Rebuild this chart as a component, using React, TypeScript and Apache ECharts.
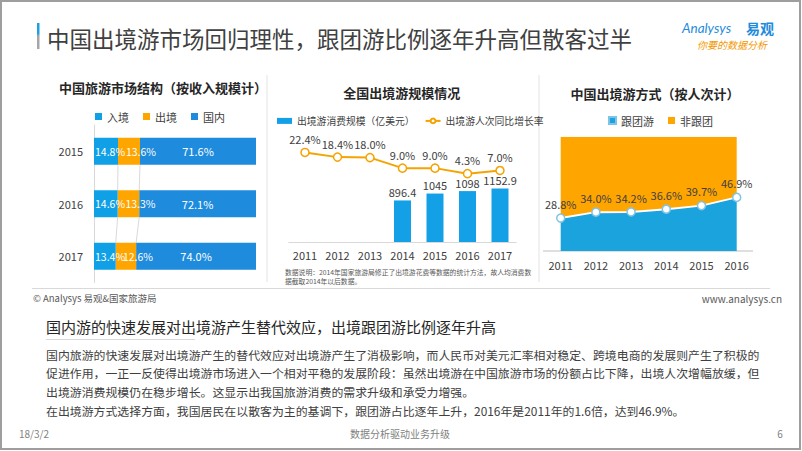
import React, { useEffect, useRef } from "react";
import * as echarts from "echarts";

const FONT = '"Noto Sans CJK SC", "Noto Sans", sans-serif';

// Chart 1: 中国旅游市场结构（按收入规模计）
const years1 = ["2015", "2016", "2017"];
const inbound = [14.8, 14.6, 13.4];
const outbound = [13.6, 13.3, 12.6];
const domestic = [71.6, 72.1, 74.0];

// Chart 2: 全国出境游规模情况
const years2 = ["2011", "2012", "2013", "2014", "2015", "2016", "2017"];
const spending = [null, null, null, 896.4, 1045, 1098, 1152.9];
const growth = [22.4, 18.4, 18.0, 9.0, 9.0, 4.3, 7.0];

// Chart 3: 中国出境游方式（按人次计）
const years3 = ["2011", "2012", "2013", "2014", "2015", "2016"];
const groupTour = [28.8, 34.0, 34.2, 36.6, 39.7, 46.9];
const independent = [71.2, 66.0, 65.8, 63.4, 60.3, 53.1];

const paragraph = [
  "国内旅游的快速发展对出境游产生的替代效应对出境游产生了消极影响，而人民币对美元汇率相对稳定、跨境电商的发展则产生了积极的",
  "促进作用，一正一反使得出境游市场进入一个相对平稳的发展阶段：虽然出境游在中国旅游市场的份额占比下降，出境人次增幅放缓，但",
  "出境游消费规模仍在稳步增长。这显示出我国旅游消费的需求升级和承受力增强。",
  "在出境游方式选择方面，我国居民在以散客为主的基调下，跟团游占比逐年上升，2016年是2011年的1.6倍，达到46.9%。",
];

const pct = (p: any) => (p.value == null ? "" : Number(p.value).toFixed(1) + "%");
const BAR1 = 27;

export default function App() {
  const ref = useRef<HTMLDivElement>(null);
  useEffect(() => {
    document.body.style.margin = "0";
    if (!ref.current) return;
    const chart = echarts.init(ref.current, null, { renderer: "svg" });
    const txt = (text: string, x: number, y: number, size: number, color: string, extra: any = {}) => ({
      type: "text",
      x,
      y,
      style: {
        text,
        fontSize: size,
        fill: color,
        fontFamily: FONT,
        textVerticalAlign: "middle",
        ...extra,
      },
    });
    const line = (x1: number, y1: number, x2: number, y2: number, color: string, w = 1) => ({
      type: "line",
      shape: { x1, y1, x2, y2 },
      style: { stroke: color, lineWidth: w },
    });
    // series lines connecting segment boundaries between consecutive bars
    const seriesLines = (params: any, api: any) => {
      const i = api.value(1);
      const bounds = [inbound[i], inbound[i] + outbound[i]];
      const nextBounds = [inbound[i + 1], inbound[i + 1] + outbound[i + 1]];
      const children = bounds.map((b, k) => {
        const a = api.coord([b, i]);
        const c = api.coord([nextBounds[k], i + 1]);
        return {
          type: "line",
          shape: { x1: a[0], y1: a[1] + BAR1 / 2, x2: c[0], y2: c[1] - BAR1 / 2 },
          style: { stroke: "#CFCFCF", lineWidth: 0.8 },
        };
      });
      return { type: "group", children };
    };
    const option: any = {
      animation: false,
      backgroundColor: "#ffffff",
      textStyle: { fontFamily: FONT },
      legend: [
        {
          data: ["入境", "出境", "国内"],
          left: 90,
          top: 106,
          icon: "rect",
          itemWidth: 7,
          itemHeight: 7,
          itemGap: 14,
          textStyle: { fontSize: 11, color: "#404040", fontFamily: FONT },
        },
        {
          data: [
            { name: "出境游消费规模（亿美元）", icon: "rect" },
            { name: "出境游人次同比增长率" },
          ],
          left: 272,
          top: 111,
          itemWidth: 15,
          itemHeight: 6,
          itemGap: 10,
          textStyle: { fontSize: 9.8, color: "#404040", fontFamily: FONT },
        },
        {
          data: [
            { name: "跟团游", icon: "rect", itemStyle: { color: "#1AA3DC" } },
            { name: "非跟团", icon: "rect" },
          ],
          left: 603,
          top: 110,
          itemWidth: 7,
          itemHeight: 7,
          itemGap: 14,
          textStyle: { fontSize: 11, color: "#404040", fontFamily: FONT },
        },
      ],
      grid: [
        { left: 94, top: 125, width: 162, height: 157.5 },
        { left: 288.75, top: 140, width: 227.5, height: 102 },
        { left: 560.7, top: 136.7, width: 176, height: 114.3 },
      ],
      xAxis: [
        { type: "value", gridIndex: 0, min: 0, max: 100, show: false },
        {
          type: "category",
          gridIndex: 1,
          data: years2,
          axisLine: { lineStyle: { color: "#D9D9D9" } },
          axisTick: { show: false },
          axisLabel: { color: "#404040", fontSize: 11, margin: 7 },
        },
        {
          type: "category",
          gridIndex: 2,
          data: years3,
          boundaryGap: false,
          axisLine: { show: false },
          axisTick: { show: false },
          axisLabel: { color: "#404040", fontSize: 11, margin: 8 },
        },
      ],
      yAxis: [
        {
          type: "category",
          gridIndex: 0,
          data: years1,
          inverse: true,
          axisLine: { lineStyle: { color: "#D9D9D9" } },
          axisTick: { show: false },
          axisLabel: { color: "#404040", fontSize: 11, margin: 11 },
        },
        { type: "value", gridIndex: 1, min: 0, max: 2200, show: false },
        { type: "value", gridIndex: 1, min: -54, max: 33, show: false },
        { type: "value", gridIndex: 2, min: 0, max: 100, show: false },
      ],
      series: [
        {
          name: "入境",
          type: "bar",
          stack: "mkt",
          xAxisIndex: 0,
          yAxisIndex: 0,
          barWidth: BAR1,
          z: 5,
          data: inbound,
          itemStyle: { color: "#0FA0E6" },
          label: { show: true, position: "insideLeft", distance: 1, color: "#fff", fontSize: 10.5, formatter: pct },
        },
        {
          name: "出境",
          type: "bar",
          stack: "mkt",
          xAxisIndex: 0,
          yAxisIndex: 0,
          barWidth: BAR1,
          z: 4,
          data: outbound,
          itemStyle: { color: "#FFA500" },
          label: { show: true, position: "inside", offset: [12, 0], color: "#fff", fontSize: 10.5, formatter: pct },
        },
        {
          name: "国内",
          type: "bar",
          stack: "mkt",
          xAxisIndex: 0,
          yAxisIndex: 0,
          barWidth: BAR1,
          z: 3,
          data: domestic,
          itemStyle: { color: "#1E8BDC" },
          label: { show: true, position: "inside", color: "#fff", fontSize: 11, formatter: pct },
        },
        {
          name: "seriesLines",
          type: "custom",
          xAxisIndex: 0,
          yAxisIndex: 0,
          renderItem: seriesLines,
          data: [
            [0, 0],
            [0, 1],
          ],
          encode: { x: 0, y: 1 },
          silent: true,
          z: 1,
        },
        {
          name: "出境游消费规模（亿美元）",
          type: "bar",
          xAxisIndex: 1,
          yAxisIndex: 1,
          barWidth: 17,
          data: spending,
          itemStyle: { color: "#13A0E6" },
          label: { show: true, position: "top", color: "#404040", fontSize: 11, distance: 3 },
        },
        {
          name: "出境游人次同比增长率",
          type: "line",
          xAxisIndex: 1,
          yAxisIndex: 2,
          data: growth,
          symbol: "circle",
          symbolSize: 8,
          lineStyle: { color: "#F5A300", width: 2 },
          itemStyle: { color: "#ffffff", borderColor: "#F5A300", borderWidth: 1.5 },
          label: { show: true, position: "top", color: "#404040", fontSize: 11, distance: 3, formatter: pct },
        },
        {
          name: "跟团游",
          type: "line",
          stack: "mode",
          xAxisIndex: 2,
          yAxisIndex: 3,
          data: groupTour,
          z: 4,
          symbol: "circle",
          symbolSize: 8,
          lineStyle: { color: "#ffffff", width: 2 },
          areaStyle: { color: "#1AA3DC", opacity: 1 },
          itemStyle: { color: "#ffffff", borderColor: "#7FC4E8", borderWidth: 1.5 },
          label: { show: true, position: "top", color: "#404040", fontSize: 11, distance: 4, formatter: pct },
        },
        {
          name: "非跟团",
          type: "line",
          stack: "mode",
          xAxisIndex: 2,
          yAxisIndex: 3,
          data: independent,
          z: 2,
          symbol: "none",
          lineStyle: { width: 0, color: "#FFA500" },
          itemStyle: { color: "#FFA500" },
          areaStyle: { color: "#FFA500", opacity: 1 },
        },
      ],
      graphic: [
        {
          type: "rect",
          shape: { x: 1, y: 1, width: 799, height: 448 },
          style: { fill: "none", stroke: "#9E9E9E", lineWidth: 2 },
        },
        {
          type: "rect",
          shape: { x: 37, y: 23, width: 2.5, height: 26 },
          style: {
            fill: new echarts.graphic.LinearGradient(0, 0, 0, 1, [
              { offset: 0, color: "#1BA1E2" },
              { offset: 0.4, color: "#1BA1E2" },
              { offset: 0.5, color: "#A6A6A6" },
              { offset: 1, color: "#A6A6A6" },
            ]),
          },
        },
        txt("中国出境游市场回归理性，跟团游比例逐年升高但散客过半", 47, 38, 22.5, "#404040"),
        txt("Analysys", 682, 28, 13.5, "#1E8BDC", { fontStyle: "italic", fontFamily: "Lato, sans-serif" }),
        txt("易观", 746, 28, 14, "#1E8BDC", { fontWeight: "bold" }),
        txt("你要的数据分析", 697, 44, 10, "#F39800", { fontStyle: "italic" }),
        txt("中国旅游市场结构（按收入规模计）", 163, 87, 13, "#262626", { textAlign: "center", fontWeight: "bold" }),
        txt("全国出境游规模情况", 401.7, 92, 13, "#262626", { textAlign: "center", fontWeight: "bold" }),
        txt("中国出境游方式（按人次计）", 655, 93, 13, "#262626", { textAlign: "center", fontWeight: "bold" }),
        line(267, 75, 267, 282, "#E3E3E3"),
        line(539, 75, 539, 282, "#E3E3E3"),
        line(543, 251, 753, 251, "#BFBFBF"),
        txt("数据说明：2014年国家旅游局修正了出境游花费等数据的统计方法，故人均消费数", 285, 271.5, 6.8, "#595959"),
        txt("据截取2014年以后数据。", 285, 280.5, 6.8, "#595959"),
        line(32, 288.5, 770, 288.5, "#D9D9D9"),
        txt("© Analysys 易观&国家旅游局", 33, 298, 9.5, "#595959"),
        txt("www.analysys.cn", 782, 298, 10, "#595959", { textAlign: "right" }),
        txt("国内游的快速发展对出境游产生替代效应，出境跟团游比例逐年升高", 46, 326, 15, "#262626"),
        line(46, 339.5, 195, 339.5, "#D9D9D9"),
        ...paragraph.map((t, i) => txt(t, 46, 354 + i * 18.7, 11.9, "#404040")),
        txt("18/3/2", 19, 433, 10, "#7F7F7F"),
        txt("数据分析驱动业务升级", 400, 433, 10, "#7F7F7F", { textAlign: "center" }),
        txt("6", 780, 433, 10, "#7F7F7F", { textAlign: "center" }),
      ],
    };
    chart.setOption(option);
    return () => chart.dispose();
  }, []);
  return <div ref={ref} style={{ width: 802, height: 451 }} />;
}
